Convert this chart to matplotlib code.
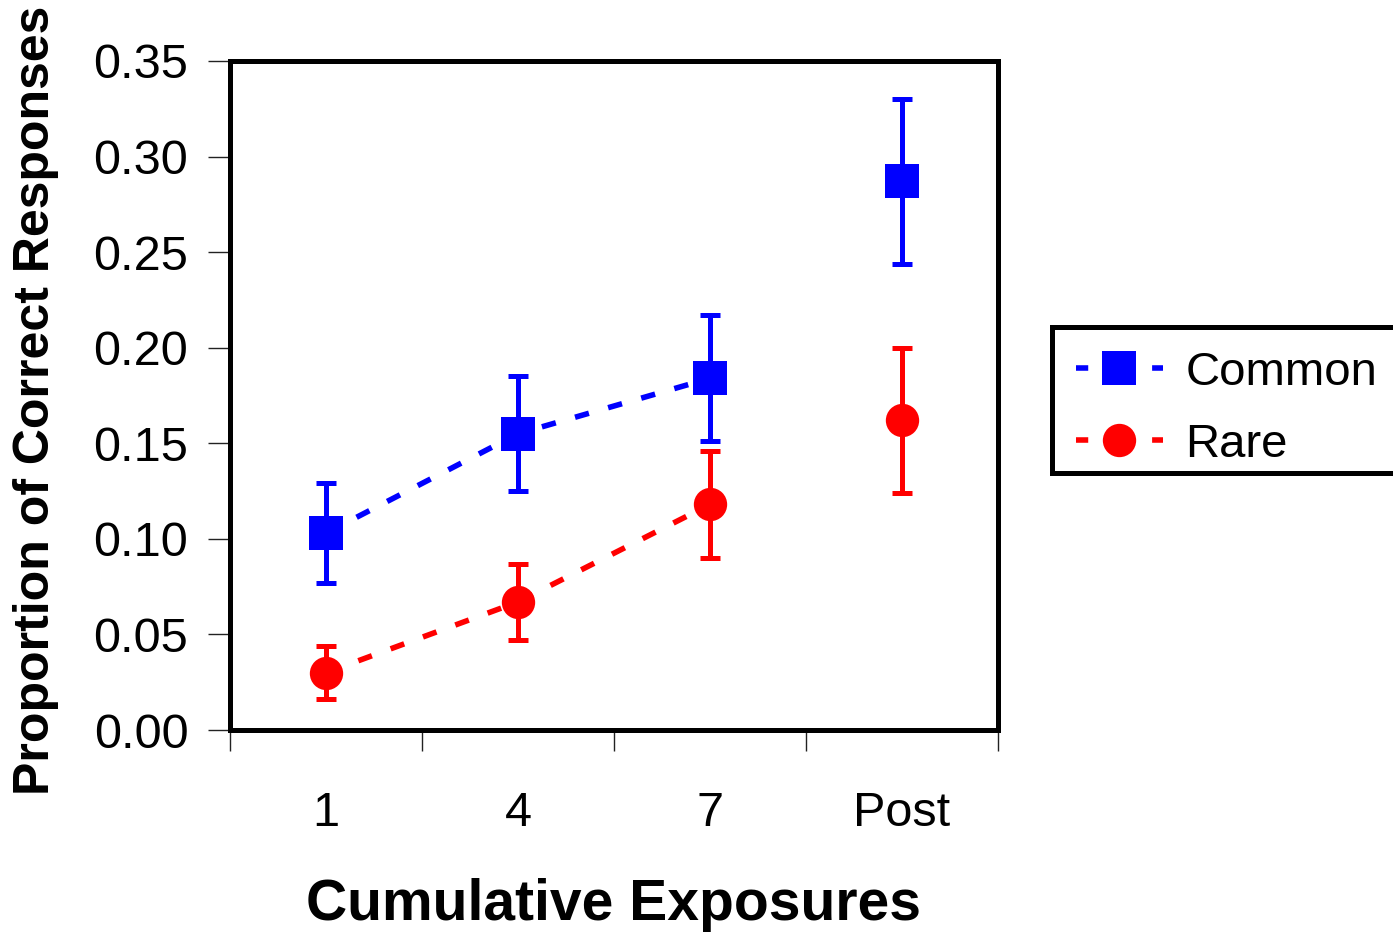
import numpy as np
import matplotlib
matplotlib.use("Agg")
import matplotlib.pyplot as plt
from matplotlib.lines import Line2D
from matplotlib.patches import Rectangle
from matplotlib.ticker import FixedLocator, FormatStrFormatter

plt.rcParams['font.family'] = ['Liberation Sans', 'DejaVu Sans']

categories = ['1', '4', '7', 'Post']
common_mean = [0.103, 0.155, 0.184, 0.287]
common_err = [0.026, 0.030, 0.033, 0.043]
rare_mean = [0.030, 0.067, 0.118, 0.162]
rare_err = [0.014, 0.020, 0.028, 0.038]
yticks = [0.00, 0.05, 0.10, 0.15, 0.20, 0.25, 0.30, 0.35]

W, H = 1393, 933
fig = plt.figure(figsize=(W / 100, H / 100), dpi=100)
ax = fig.add_axes([230 / W, 1 - 730 / H, (998 - 230) / W, (730 - 61) / H])

x = np.arange(len(categories))
lw = 4.0
dash = (2.6, 3.6)

for mean, err, col, mk in [(common_mean, common_err, '#0000ff', 's'),
                           (rare_mean, rare_err, '#ff0000', 'o')]:
    ax.plot(x[:3], mean[:3], color=col, lw=lw, dashes=dash, zorder=2)
    eb = ax.errorbar(x, mean, yerr=err, fmt='none', ecolor=col, elinewidth=3.6,
                     capsize=7.5, capthick=3.6, zorder=3)
    for c in eb[1]:
        c.set_solid_capstyle('round')
        c.set_dash_capstyle('round')
    ax.plot(x, mean, linestyle='none', marker=mk, markersize=24,
            color=col, markeredgewidth=0, zorder=4)

ax.set_xlim(-0.5, len(categories) - 0.5)
ax.set_ylim(0, 0.35)
ax.yaxis.set_major_locator(FixedLocator(yticks))
ax.yaxis.set_major_formatter(FormatStrFormatter('%.2f'))

ax.set_xticks(np.arange(len(categories) + 1) - 0.5)
ax.set_xticklabels([])
ax.set_xticks(x, minor=True)
ax.set_xticklabels(categories, minor=True)
ax.tick_params(axis='x', which='major', direction='out', length=15, width=1, color='#222222')
ax.tick_params(axis='x', which='minor', length=0, pad=44, labelsize=35)
ax.tick_params(axis='y', which='major', direction='out', length=16, width=1, color='#222222',
               labelsize=35, pad=14)

for s in ax.spines.values():
    s.set_linewidth(3.6)
    s.set_color('black')

fig.text(36 / W, 1 - 400 / H, 'Proportion of Correct Responses', rotation=90,
         fontsize=36, fontweight='bold', ha='center', va='center')
fig.text(614 / W, 1 - 905 / H, 'Cumulative Exposures', fontsize=41,
         fontweight='bold', ha='center', va='center')

# legend frame
fig.add_artist(Rectangle((1052 / W, 1 - 473 / H), (1420 - 1052) / W, (473 - 327) / H,
                         transform=fig.transFigure, facecolor='white',
                         edgecolor='black', linewidth=3.6, zorder=5))

handles = [
    Line2D([], [], color='#0000ff', lw=lw, dashes=(2.2, 11.5), marker='s',
           markersize=24, markeredgewidth=0),
    Line2D([], [], color='#ff0000', lw=lw, dashes=(2.2, 11.5), marker='o',
           markersize=24, markeredgewidth=0),
]
leg = fig.legend(handles, ['Common', 'Rare'], loc='upper left',
                 bbox_to_anchor=(1052 / W, 1 - 327 / H), bbox_transform=fig.transFigure,
                 fontsize=34, frameon=False, borderpad=0.5,
                 handlelength=1.84, handletextpad=0.48, labelspacing=0.6,
                 borderaxespad=0)
leg.set_zorder(6)

fig.savefig('out.png', dpi=100)
